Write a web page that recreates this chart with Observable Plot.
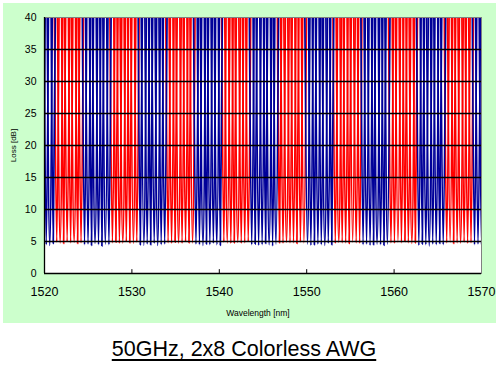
<!DOCTYPE html>
<html><head><meta charset="utf-8">
<script src="https://cdn.jsdelivr.net/npm/d3@7"></script>
<script src="https://cdn.jsdelivr.net/npm/@observablehq/plot@0.6"></script>
<style>
body{margin:0;background:#fff;font-family:"Liberation Sans",Arial,sans-serif;}
#wrap{position:relative;width:504px;height:370px;overflow:hidden;}
#bg{position:absolute;left:3px;top:3px;width:493px;height:320px;background:#ccffcc;}
#chart{position:absolute;left:0;top:0;}
#title{position:absolute;left:0;width:488px;top:337px;text-align:center;font-size:21.5px;text-decoration:underline;text-underline-offset:3px;color:#000;}
</style></head><body>
<div id="wrap"><div id="bg"></div><div id="chart"></div><div id="title">50GHz, 2x8 Colorless AWG</div></div>
<script>
// Channel centre wavelengths (nm), 50 GHz grid
const wavelength = [1519.80, 1520.20, 1520.60, 1521.00, 1521.40, 1521.79, 1522.19, 1522.59, 1522.99, 1523.39, 1523.79, 1524.18,
 1524.58, 1524.98, 1525.38, 1525.78, 1526.18, 1526.57, 1526.97, 1527.37, 1527.77, 1528.17, 1528.57, 1528.96,
 1529.36, 1529.76, 1530.16, 1530.56, 1530.96, 1531.36, 1531.75, 1532.15, 1532.55, 1532.95, 1533.35, 1533.75,
 1534.14, 1534.54, 1534.94, 1535.34, 1535.74, 1536.14, 1536.53, 1536.93, 1537.33, 1537.73, 1538.13, 1538.53,
 1538.92, 1539.32, 1539.72, 1540.12, 1540.52, 1540.92, 1541.32, 1541.71, 1542.11, 1542.51, 1542.91, 1543.31,
 1543.71, 1544.10, 1544.50, 1544.90, 1545.30, 1545.70, 1546.10, 1546.49, 1546.89, 1547.29, 1547.69, 1548.09,
 1548.49, 1548.88, 1549.28, 1549.68, 1550.08, 1550.48, 1550.88, 1551.28, 1551.67, 1552.07, 1552.47, 1552.87,
 1553.27, 1553.67, 1554.06, 1554.46, 1554.86, 1555.26, 1555.66, 1556.06, 1556.45, 1556.85, 1557.25, 1557.65,
 1558.05, 1558.45, 1558.84, 1559.24, 1559.64, 1560.04, 1560.44, 1560.84, 1561.24, 1561.63, 1562.03, 1562.43,
 1562.83, 1563.23, 1563.63, 1564.02, 1564.42, 1564.82, 1565.22, 1565.62, 1566.02, 1566.41, 1566.81, 1567.21,
 1567.61, 1568.01, 1568.41, 1568.80, 1569.20, 1569.60, 1570.00];

// Which trace colour each channel belongs to (B = blue, R = red)
const portColour = "BBBB" + "RRRRRRRR" + "BBBBBBBB" + "RRRRRRRR" + "BBBBBBBB" + "RRRRRRRR" + "BBBBBBBB" +
 "RRRRRRRR" + "BBBBBBBB" + "RRRRRRRR" + "BBBBBBBB" + "RRRRRRRR" + "BBBBBBBB" + "RRRRRRRR" + "BBBBBBBB" +
 "RRRRRRRR" + "BBB";

// Minimum insertion loss of each channel (dB)
const minLoss = [4.6, 4.5, 4.4, 4.7,
 4.9, 4.8, 4.7, 5.0, 4.8, 4.9, 4.7, 4.8,
 4.5, 4.6, 4.4, 4.7, 4.5, 4.3, 4.6, 4.5,
 4.8, 4.9, 4.7, 4.8, 5.0, 4.8, 4.7, 4.9,
 4.5, 4.4, 4.6, 4.5, 4.7, 4.4, 4.5, 4.6,
 4.8, 4.7, 4.9, 4.8, 4.7, 5.0, 4.8, 4.8,
 4.6, 4.5, 4.4, 4.6, 4.5, 4.7, 4.5, 4.4,
 4.9, 4.8, 4.7, 4.8, 4.9, 4.7, 4.8, 5.0,
 4.5, 4.6, 4.4, 4.5, 4.7, 4.5, 4.3, 4.6,
 4.8, 4.7, 4.9, 4.8, 4.8, 4.7, 4.9, 4.8,
 4.6, 4.4, 4.5, 4.6, 4.5, 4.4, 4.7, 4.5,
 4.7, 4.9, 4.8, 4.8, 4.7, 4.9, 4.8, 4.7,
 4.5, 4.6, 4.4, 4.5, 4.6, 4.5, 4.4, 4.6,
 4.8, 4.7, 4.9, 4.8, 5.0, 4.8, 4.7, 4.8,
 4.4, 4.6, 4.5, 4.3, 4.6, 4.5, 4.7, 4.5,
 4.8, 4.9, 4.7, 4.8, 4.8, 4.9, 4.7, 4.8,
 4.5, 4.6, 4.5];

// Half width (nm) of each passband where it leaves the 40 dB top of the plot
const halfWidth40 = [0.27, 0.25, 0.29, 0.24,
 0.26, 0.30, 0.23, 0.28, 0.25, 0.31, 0.24, 0.27,
 0.25, 0.28, 0.23, 0.30, 0.26, 0.24, 0.29, 0.25,
 0.28, 0.24, 0.27, 0.31, 0.25, 0.23, 0.29, 0.26,
 0.24, 0.29, 0.26, 0.23, 0.28, 0.30, 0.25, 0.27,
 0.26, 0.28, 0.24, 0.30, 0.25, 0.27, 0.23, 0.29,
 0.28, 0.25, 0.30, 0.24, 0.27, 0.26, 0.29, 0.23,
 0.25, 0.29, 0.26, 0.24, 0.31, 0.27, 0.25, 0.28,
 0.27, 0.23, 0.28, 0.26, 0.24, 0.30, 0.25, 0.29,
 0.24, 0.27, 0.30, 0.25, 0.28, 0.23, 0.26, 0.29,
 0.29, 0.26, 0.24, 0.28, 0.25, 0.31, 0.27, 0.23,
 0.26, 0.30, 0.25, 0.27, 0.24, 0.29, 0.28, 0.25,
 0.25, 0.28, 0.27, 0.23, 0.30, 0.26, 0.24, 0.29,
 0.28, 0.25, 0.29, 0.26, 0.23, 0.27, 0.31, 0.24,
 0.26, 0.24, 0.28, 0.30, 0.25, 0.27, 0.23, 0.28,
 0.27, 0.29, 0.24, 0.26, 0.30, 0.25, 0.28, 0.26,
 0.25, 0.28, 0.26];

const yTicks = [0, 5, 10, 15, 20, 25, 30, 35, 40];
const xTicks = [1520, 1530, 1540, 1550, 1560, 1570];
const yTop = 40;

const colours = {B: "#000099", R: "#ff0000"};
const pts = [];
wavelength.forEach((c, i) => {
  const p = portColour[i], w = halfWidth40[i];
  pts.push({ch: i, port: p, x: c - w, y: yTop},
           {ch: i, port: p, x: c, y: minLoss[i]},
           {ch: i, port: p, x: c + w, y: yTop});
});

const font = "'Liberation Sans', Arial, sans-serif";
const chart = Plot.plot({
  width: 504, height: 326,
  marginLeft: 44, marginRight: 23, marginTop: 17, marginBottom: 53,
  style: {background: "transparent", fontFamily: font, color: "#000"},
  x: {domain: [1520, 1570]},
  y: {domain: [0, 40]},
  marks: [
    Plot.frame({fill: "white", stroke: "none"}),
    Plot.line(pts.filter(d => d.port === "R"), {x: "x", y: "y", z: "ch", stroke: colours.R, strokeWidth: 1.7, curve: "natural", clip: true}),
    Plot.line(pts.filter(d => d.port === "B"), {x: "x", y: "y", z: "ch", stroke: colours.B, strokeWidth: 1.7, curve: "natural", clip: true}),
    Plot.ruleY(yTicks.filter(v => v > 0 && v < 40), {stroke: "#000", strokeWidth: 1.3}),
    Plot.frame({stroke: "#808080", strokeWidth: 1}),
    Plot.ruleX([1520], {stroke: "#000", strokeWidth: 1.3}),
    Plot.ruleY([0], {stroke: "#000", strokeWidth: 1.3}),
    Plot.ruleX(xTicks.slice(1, -1), {y1: 0, y2: 0.6, stroke: "#000"}),
    Plot.axisY(yTicks, {tickSize: 0, tickPadding: 8, fontSize: 10.5, label: null}),
    Plot.axisX(xTicks, {tickSize: 0, tickPadding: 14, fontSize: 12.5, label: null, tickFormat: d => String(d)}),
    Plot.text(["Loss [dB]"], {frameAnchor: "left", dx: -31, rotate: -90, fontSize: 8, textAnchor: "middle", lineAnchor: "middle"}),
    Plot.text(["Wavelength [nm]"], {frameAnchor: "bottom", dx: -5, dy: 40, fontSize: 8.5, textAnchor: "middle", lineAnchor: "middle"})
  ]
});
document.getElementById("chart").appendChild(chart);
</script>
</body></html>
